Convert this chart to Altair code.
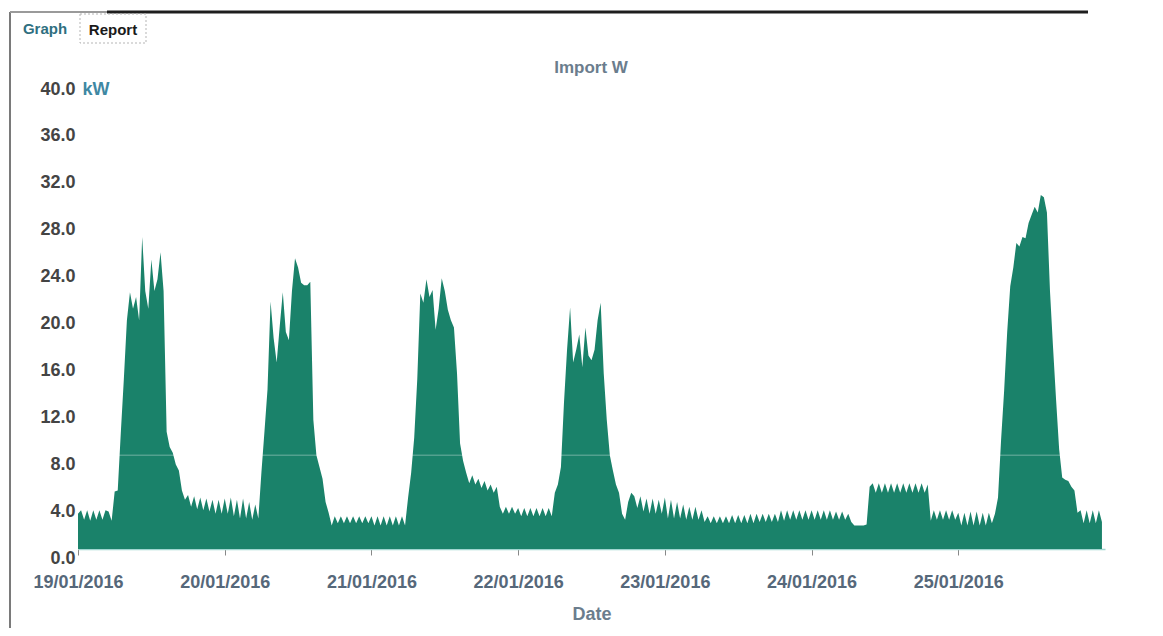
import altair as alt
import pandas as pd

# Half-hourly envelope of import power (kW), one list per day
d19 = [3.0, 3.3, 2.5, 3.3, 2.4, 3.3, 2.5, 3.3, 2.5, 3.3, 3.2, 2.4,
       4.9, 5.0, 9.9, 14.5, 19.5, 21.9, 20.5, 21.5, 19.5, 26.6, 22.0, 20.5,
       24.7, 22.0, 23.0, 25.3, 22.0, 10.0, 8.7, 8.2, 7.2, 6.7, 5.0, 4.2,
       4.6, 3.6, 4.5, 3.4, 4.4, 3.3, 4.3, 3.2, 4.2, 3.0, 4.2, 3.0]
d20 = [4.3, 3.0, 4.4, 2.8, 4.2, 2.6, 4.3, 2.6, 4.0, 2.5, 3.8, 2.6,
       6.5, 10.0, 13.6, 21.1, 18.0, 15.9, 19.0, 21.9, 18.5, 17.8, 22.0, 24.8,
       24.0, 22.7, 22.5, 22.5, 22.8, 11.0, 8.0, 7.0, 6.0, 4.0, 3.1, 2.0,
       2.8, 2.2, 2.8, 2.2, 2.8, 2.2, 2.8, 2.2, 2.8, 2.2, 2.8, 2.2]
d21 = [2.8, 2.0, 2.8, 2.0, 2.8, 2.0, 2.8, 2.0, 2.8, 2.0, 2.8, 2.0,
       4.4, 6.5, 9.5, 14.5, 21.8, 21.0, 23.0, 21.5, 22.1, 18.7, 20.5, 23.1,
       22.0, 20.4, 19.5, 18.9, 15.0, 9.0, 7.5, 6.5, 5.6, 6.3, 5.5, 6.0,
       5.2, 5.8, 5.0, 5.5, 4.8, 5.3, 3.6, 3.0, 3.6, 3.0, 3.6, 3.0]
d22 = [3.5, 2.8, 3.5, 2.8, 3.5, 2.8, 3.5, 2.8, 3.5, 2.8, 3.5, 2.8,
       4.8, 5.5, 7.0, 12.5, 17.0, 20.6, 15.9, 17.0, 18.3, 15.5, 18.9, 16.5,
       16.1, 17.0, 19.5, 21.0, 15.0, 11.0, 8.0, 6.7, 5.5, 4.8, 3.0, 2.5,
       4.0, 4.8, 4.5, 3.5, 4.5, 3.2, 4.3, 3.0, 4.3, 3.0, 4.2, 3.0]
d23 = [4.4, 2.6, 4.2, 2.6, 4.0, 2.6, 3.8, 2.5, 3.6, 2.5, 3.6, 2.5,
       3.3, 2.3, 2.8, 2.2, 2.8, 2.2, 2.8, 2.2, 2.8, 2.2, 2.9, 2.2,
       2.9, 2.2, 2.9, 2.2, 3.0, 2.2, 3.0, 2.3, 3.0, 2.3, 3.0, 2.3,
       3.0, 2.3, 3.3, 2.4, 3.3, 2.5, 3.3, 2.5, 3.3, 2.5, 3.3, 2.5]
d24 = [3.3, 2.5, 3.3, 2.5, 3.3, 2.5, 3.3, 2.5, 3.2, 2.5, 3.2, 2.5,
       3.0, 2.3, 2.0, 2.0, 2.0, 2.0, 2.1, 5.3, 5.6, 4.8, 5.6, 4.8,
       5.6, 4.8, 5.6, 4.8, 5.6, 4.8, 5.6, 4.8, 5.6, 4.8, 5.6, 4.8,
       5.6, 4.8, 5.5, 2.4, 3.3, 2.5, 3.3, 2.5, 3.3, 2.5, 3.3, 2.5]
d25 = [3.1, 2.0, 3.1, 2.0, 3.2, 2.0, 3.2, 2.0, 3.1, 2.0, 3.1, 2.2,
       3.0, 4.4, 9.3, 13.5, 18.5, 22.4, 24.0, 26.1, 25.8, 26.6, 26.5, 27.8,
       28.5, 29.2, 28.7, 30.2, 30.0, 28.7, 22.0, 17.2, 12.7, 8.5, 6.1, 5.9,
       5.8, 5.3, 5.0, 3.1, 3.3, 2.2, 3.3, 2.2, 3.3, 2.2, 3.3, 2.3]

day_starts = ["2016-01-19", "2016-01-20", "2016-01-21", "2016-01-22",
              "2016-01-23", "2016-01-24", "2016-01-25"]
day_values = [d19, d20, d21, d22, d23, d24, d25]
y_ticks = [0, 4, 8, 12, 16, 20, 24, 28, 32, 36, 40]
x_tick_days = [19, 20, 21, 22, 23, 24, 25]

rows = []
for start, vals in zip(day_starts, day_values):
    times = pd.date_range(start, periods=len(vals), freq="30min")
    for t, v in zip(times, vals):
        rows.append({"t": t.strftime("%Y-%m-%dT%H:%M:%S"), "kw": v})
df = pd.DataFrame(rows)

FONT = "Liberation Sans"
GREEN = "#1a826a"

x_enc = alt.X(
    "t:T",
    scale=alt.Scale(domain=[alt.DateTime(year=2016, month=1, date=19),
                            alt.DateTime(year=2016, month=1, date=26)]),
    axis=alt.Axis(
        values=[alt.DateTime(year=2016, month=1, date=d) for d in x_tick_days],
        format="%d/%m/%Y", title="Date", grid=False,
        labelFont=FONT, labelFontSize=18, labelFontWeight="bold", labelColor="#56687a",
        labelPadding=18, labelFlush=False, labelOverlap=False,
        tickColor="#888888", tickSize=6, domainColor="#9fd6d0", domainWidth=1.5,
        titleFont=FONT, titleFontSize=18, titleFontWeight="bold", titleColor="#6b7d8d",
        titlePadding=14,
    ),
)
y_enc = alt.Y(
    "kw:Q",
    scale=alt.Scale(domain=[0, 40], nice=False),
    axis=alt.Axis(
        values=y_ticks, format=".1f", grid=False, domain=False, ticks=False,
        labelFont=FONT, labelFontSize=18, labelFontWeight="bold", labelColor="#444444",
        labelPadding=3, labelOffset=9,
        title="kW", titleAngle=0, titleX=4, titleY=9, titleAlign="left",
        titleBaseline="middle", titleFont=FONT, titleFontSize=18,
        titleFontWeight="bold", titleColor="#3f88a3",
    ),
)

area = alt.Chart(df).mark_area(color=GREEN, opacity=1, interpolate="linear").encode(
    x=x_enc, y=y_enc
)

grid8 = alt.Chart(pd.DataFrame({"v": [8]})).mark_rule(
    color="white", opacity=0.25, strokeWidth=1.5
).encode(y=alt.Y("v:Q"))

# Chart title as a text mark (placed just above the plot)
title_mark = alt.Chart(pd.DataFrame({"s": ["Import W"]})).mark_text(
    font=FONT, fontSize=17, fontWeight="bold", color="#6b7d8d",
    align="center", baseline="middle"
).encode(x=alt.value(513), y=alt.value(-12), text="s:N")

# Frame of the screenshot and the tabs
frame_left = alt.Chart(pd.DataFrame({"a": [0]})).mark_rule(
    color="#7a7a7a", strokeWidth=2
).encode(x=alt.value(-68), y=alt.value(-68), y2=alt.value(560))
frame_top_light = alt.Chart(pd.DataFrame({"a": [0]})).mark_rule(
    color="#9a9a9a", strokeWidth=2
).encode(x=alt.value(-68), x2=alt.value(29), y=alt.value(-68))
frame_top_dark = alt.Chart(pd.DataFrame({"a": [0]})).mark_rule(
    color="#1e1e1e", strokeWidth=3
).encode(x=alt.value(29), x2=alt.value(1010), y=alt.value(-68))
report_box = alt.Chart(pd.DataFrame({"a": [0]})).mark_rect(
    fill="white", stroke="#b5b5b5", strokeWidth=1, strokeDash=[2, 2]
).encode(x=alt.value(2), x2=alt.value(68), y=alt.value(-66), y2=alt.value(-37))
graph_tab = alt.Chart(pd.DataFrame({"s": ["Graph"]})).mark_text(
    font=FONT, fontSize=15, fontWeight="bold", color="#2f6f80", align="center", baseline="middle"
).encode(x=alt.value(-33), y=alt.value(-51), text="s:N")
report_tab = alt.Chart(pd.DataFrame({"s": ["Report"]})).mark_text(
    font=FONT, fontSize=15, fontWeight="bold", color="#1a1a1a", align="center", baseline="middle"
).encode(x=alt.value(35), y=alt.value(-50), text="s:N")

chart = alt.layer(
    area, grid8, title_mark, frame_left, frame_top_light, frame_top_dark,
    report_box, graph_tab, report_tab
).properties(
    width=1027,
    height=469,
    padding={"left": 70, "top": 72, "right": 50, "bottom": 79},
    autosize=alt.AutoSizeParams(type="none"),
).configure(
    background="white",
    view=alt.ViewConfig(stroke="transparent", strokeWidth=0),
)

chart.save("out.html", embed_options={"renderer": "svg", "actions": False})
